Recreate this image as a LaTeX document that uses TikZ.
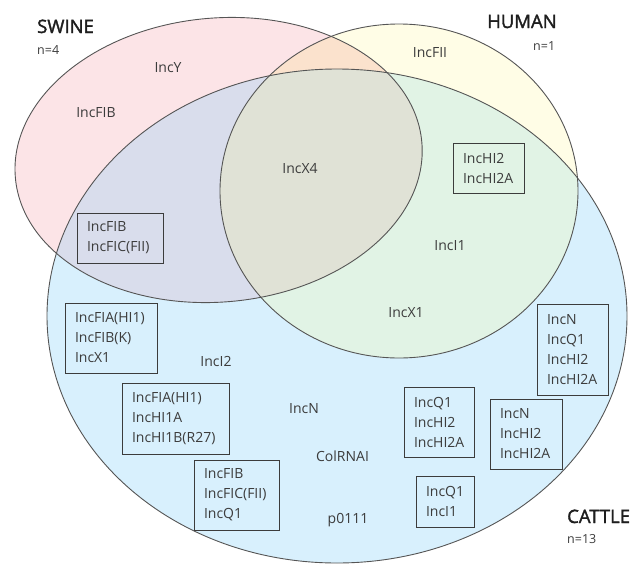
\documentclass[tikz,border=0pt]{standalone}
\usepackage{fontspec}
\setmainfont{Open Sans}
\newfontfamily\titlefont[FakeBold=1.8]{Open Sans}
\definecolor{swinefill}{HTML}{FCE4E7}
\definecolor{humanfill}{HTML}{FFFDE6}
\definecolor{cattlefill}{HTML}{D8F0FD}
\definecolor{shfill}{HTML}{FBE2CD}
\definecolor{scfill}{HTML}{D9DDEC}
\definecolor{hcfill}{HTML}{E1F3E5}
\definecolor{allfill}{HTML}{E0E2D6}
\definecolor{edge}{HTML}{555555}
\definecolor{txt}{HTML}{3C3C3C}
\definecolor{ttl}{HTML}{1E1E1E}
\tikzset{
  outline/.style={draw=edge, line width=0.9pt},
  lbl/.style={text=txt, font=\fontsize{14}{20}\selectfont, inner sep=0pt, anchor=base},
  boxnode/.style={draw=txt, line width=0.9pt, text=txt, font=\fontsize{14}{20}\selectfont, align=left, inner xsep=10pt, inner ysep=0pt},
  titlelbl/.style={text=ttl, font=\titlefont\fontsize{18.5}{22}\selectfont, inner sep=0pt, anchor=base west},
  countlbl/.style={text=txt, font=\fontsize{12.5}{14}\selectfont, inner sep=0pt, anchor=base west},
  swinepath/.style={rotate around={5:(218.6,160)}}
}
\begin{document}
\begin{tikzpicture}[x=1pt,y=-1pt]
\useasboundingbox (0,0) rectangle (632,565);
% base fills
\fill[cattlefill] (337,316) ellipse [x radius=290pt, y radius=247pt];
\fill[humanfill] (399,191) ellipse [x radius=179pt, y radius=167pt];
\fill[swinefill, swinepath] (218.6,160) ellipse [x radius=204pt, y radius=142pt];
% swine & human
\begin{scope}
  \clip[swinepath] (218.6,160) ellipse [x radius=204pt, y radius=142pt];
  \fill[shfill] (399,191) ellipse [x radius=179pt, y radius=167pt];
  \fill[scfill] (337,316) ellipse [x radius=290pt, y radius=247pt];
  \clip (399,191) ellipse [x radius=179pt, y radius=167pt];
  \fill[allfill] (337,316) ellipse [x radius=290pt, y radius=247pt];
\end{scope}
\begin{scope}
  \clip (399,191) ellipse [x radius=179pt, y radius=167pt];
  \clip (337,316) ellipse [x radius=290pt, y radius=247pt];
  \fill[hcfill] (0,0) rectangle (632,565);
  \clip[swinepath] (218.6,160) ellipse [x radius=204pt, y radius=142pt];
  \fill[allfill] (0,0) rectangle (632,565);
\end{scope}
% outlines
\draw[outline, swinepath] (218.6,160) ellipse [x radius=204pt, y radius=142pt];
\draw[outline] (399,191) ellipse [x radius=179pt, y radius=167pt];
\draw[outline] (337,316) ellipse [x radius=290pt, y radius=247pt];
% titles
\node[titlelbl] (swine) at (37,33) {SWINE};
\node[countlbl] (nswine) at (37,54) {n=4};
\node[titlelbl] (human) at (487,28) {HUMAN};
\node[countlbl] (nhuman) at (533,50) {n=1};
\node[titlelbl] (cattle) at (567,523) {CATTLE};
\node[countlbl] (ncattle) at (567,543) {n=13};
% single labels
\node[lbl] (incy) at (168,72) {IncY};
\node[lbl] (incfibs) at (96,117) {IncFIB};
\node[lbl] (incx4) at (300,173) {IncX4};
\node[lbl] (incfii) at (430,57) {IncFII};
\node[lbl] (inci1) at (450,250) {IncI1};
\node[lbl] (incx1) at (406,317) {IncX1};
\node[lbl] (inci2) at (216,366) {IncI2};
\node[lbl] (incn) at (304,413) {IncN};
\node[lbl] (colrnai) at (342.5,461) {ColRNAI};
\node[lbl] (p0111) at (348,523) {p0111};
% boxes
\node[boxnode, minimum width=86pt, minimum height=50pt, text width=66pt] (b1) at (120,238) {IncFIB\\IncFIC(FII)};
\node[boxnode, minimum width=71pt, minimum height=50pt, text width=51pt] (b2) at (488.5,168) {IncHI2\\IncHI2A};
\node[boxnode, minimum width=92pt, minimum height=70pt, text width=72pt] (b3) at (111,338) {IncFIA(HI1)\\IncFIB(K)\\IncX1};
\node[boxnode, minimum width=107pt, minimum height=71pt, text width=87pt] (b4) at (175.5,418.5) {IncFIA(HI1)\\IncHI1A\\IncHI1B(R27)};
\node[boxnode, minimum width=85pt, minimum height=70pt, text width=65pt] (b5) at (236.5,495) {IncFIB\\IncFIC(FII)\\IncQ1};
\node[boxnode, minimum width=71pt, minimum height=91pt, text width=51pt] (b6) at (572.5,349.5) {IncN\\IncQ1\\IncHI2\\IncHI2A};
\node[boxnode, minimum width=70pt, minimum height=70pt, text width=50pt] (b7) at (439,422) {IncQ1\\IncHI2\\IncHI2A};
\node[boxnode, minimum width=72pt, minimum height=70pt, text width=52pt] (b8) at (526,434) {IncN\\IncHI2\\IncHI2A};
\node[boxnode, minimum width=58pt, minimum height=51pt, text width=38pt] (b9) at (445,501.5) {IncQ1\\IncI1};
\end{tikzpicture}
\end{document}
